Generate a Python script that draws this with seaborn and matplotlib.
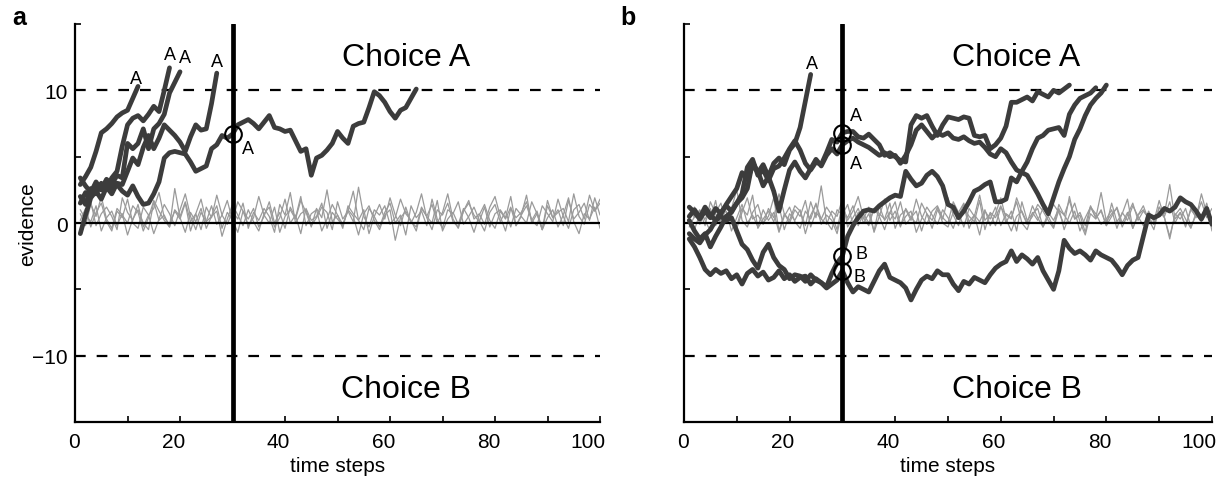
import numpy as np
import pandas as pd
import matplotlib
matplotlib.use("Agg")
import matplotlib.pyplot as plt
import matplotlib.transforms as mtrans
from matplotlib.ticker import MultipleLocator
import seaborn as sns

sns.set_style("ticks")
plt.rcParams["font.family"] = ["Liberation Sans", "DejaVu Sans"]
plt.rcParams["lines.scale_dashes"] = False
for key in ["text.color", "axes.labelcolor", "xtick.color", "ytick.color", "axes.edgecolor"]:
    plt.rcParams[key] = "black"

# ---- data: panel a, decision traces (t = 1, 2, ...) ----
a_tr1 = [2.9, 3.5, 4.2, 5.4, 6.8, 7.1, 7.5, 8.0, 8.3, 8.5, 9.4, 10.3]
a_tr2 = [2.0, 1.4, 2.6, 2.2, 3.0, 2.6, 3.4, 3.9, 5.8, 7.4, 7.9, 8.1, 7.7, 8.2, 8.8, 8.4, 10.0, 11.7]
a_tr3 = [3.4, 2.8, 2.3, 3.1, 2.5, 3.3, 2.9, 3.6, 3.4, 6.0, 5.6, 6.0, 7.1, 5.6, 7.1, 7.5, 8.2, 9.8,
         10.6, 11.4]
a_tr4 = [-0.8, 0.6, 1.9, 2.4, 1.8, 2.7, 2.2, 3.0, 2.9, 3.9, 4.9, 4.4, 5.7, 6.6, 5.6, 6.4, 7.4, 7.0,
         6.6, 6.1, 5.4, 6.5, 7.4, 7.0, 7.1, 9.0, 11.3]
a_tr5 = [1.5, 2.3, 2.0, 2.8, 2.5, 3.2, 2.6, 2.9, 2.4, 2.1, 2.8, 2.0, 1.4, 1.5, 2.2, 3.1, 4.9, 5.3,
         5.4, 5.3, 5.2, 4.6, 3.9, 4.1, 4.3, 5.6, 5.9, 6.6, 6.4, 6.7, 7.4, 7.6, 7.8, 7.5, 7.1, 7.6,
         8.1, 7.2, 7.1, 6.9, 7.0, 6.2, 5.4, 5.6, 3.6, 4.9, 5.1, 5.5, 6.0, 6.9, 6.4, 6.0, 7.3, 7.5,
         7.6, 8.7, 9.9, 9.6, 9.1, 8.4, 7.9, 8.5, 8.7, 9.4, 10.1]

# ---- panel a, noise traces (t = 1..100) ----
a_noise1 = [0.2, 1.1, -0.3, 0.8, 1.5, 0.1, -0.6, 0.9, 0.4, 1.8, 0.0, -0.4, 1.2, 0.6, -0.8, 0.3, 1.4,
            0.7, -0.2, 1.0, 2.2, 0.5, -0.5, 0.8, 0.1, 1.3, -0.1, 0.6, 1.7, 0.2, -0.7, 0.9, 0.3, 1.1,
            -0.3, 0.5, 1.6, 0.0, 0.8, -0.4, 1.2, 0.4, 2.0, -0.2, 0.7, 1.0, -0.6, 0.3, 1.4, 0.6, -0.1,
            0.9, 2.4, 0.2, -0.5, 1.1, 0.5, -0.3, 0.8, 1.5, 0.0, 0.6, -0.9, 1.3, 0.4, 0.9, -0.2, 1.8,
            0.3, -0.4, 1.0, 0.7, 1.6, -0.1, 0.5, 1.2, 0.2, -0.6, 0.8, 1.4, 0.1, 0.9, -0.3, 1.1, 0.6,
            2.1, 0.0, 0.7, -0.5, 1.3, 0.4, 1.0, -0.2, 1.7, 0.3, 0.8, 1.5, 0.2, 1.9, 0.6]
a_noise2 = [1.0, 0.3, 1.6, -0.2, 0.7, 1.2, 0.5, -0.5, 1.9, 0.8, 0.2, 1.4, -0.3, 0.6, 1.1, 2.3, 0.4,
            -0.1, 0.9, 0.3, 1.5, -0.6, 0.7, 1.8, 0.1, 0.5, 1.3, -0.4, 0.8, 0.2, 1.6, 0.9, -0.2, 0.4,
            2.0, 0.6, 0.0, 1.2, -0.7, 0.5, 1.0, 0.3, 1.7, 0.8, -0.3, 1.1, 0.4, 2.5, 0.1, 0.6, -0.4,
            1.3, 0.7, 0.2, 1.0, -0.8, 0.5, 1.4, 0.3, 1.9, 0.6, -0.2, 1.2, 0.0, 0.8, 2.2, 0.4, -0.5,
            1.0, 0.6, 1.5, 0.1, -0.3, 0.9, 1.7, 0.3, 0.7, -0.1, 1.2, 2.0, 0.5, -0.6, 1.1, 0.4, 0.8,
            1.6, 0.2, -0.2, 1.3, 0.7, 0.1, 1.8, 0.5, -0.4, 1.0, 1.4, 0.3, 2.1, 0.9, 1.5]
a_noise3 = [-0.4, 0.6, 0.1, 1.3, -0.6, 0.4, 0.9, -0.2, 0.7, -0.9, 0.3, 1.0, 0.0, -0.5, 1.6, 0.2, 0.6,
            -0.3, 2.6, 0.4, -0.7, 0.8, 0.1, 1.1, -0.4, 0.5, 0.9, -1.0, 0.3, 1.4, 0.6, -0.2, 1.0, 0.1,
            -0.6, 0.7, 1.2, -0.3, 0.4, 1.8, 0.0, 0.6, -0.8, 1.1, 0.2, 0.5, 1.5, -0.4, 0.8, 0.3, -0.2,
            1.0, 0.5, -0.9, 0.7, 1.3, 0.2, -0.5, 0.6, 1.0, -1.3, 0.4, 0.9, 0.1, -0.3, 1.2, 0.5, 0.0,
            1.7, -0.6, 0.3, 0.8, -0.1, 1.1, 0.4, -0.7, 0.6, 1.4, 0.2, -0.4, 0.9, 0.3, 1.2, -0.2, 0.5,
            0.0, 1.6, 0.7, -0.5, 0.4, 1.0, -0.3, 0.6, 1.9, 0.1, -0.8, 0.7, 0.3, 1.2, -0.4]
a_noise4 = [0.7, -0.2, 1.4, 0.5, 2.0, 0.3, -0.4, 1.1, 0.6, 0.0, 1.3, 0.8, -0.6, 0.4, 1.7, 0.9, 0.2,
            -0.3, 1.0, 0.5, 1.6, 0.1, 0.7, -0.5, 1.2, 0.4, 2.1, 0.6, -0.1, 0.9, 0.3, 1.5, -0.4, 0.8,
            0.2, 1.1, 0.5, -0.7, 1.4, 0.6, 2.3, 0.0, 0.7, 1.0, -0.2, 0.4, 1.2, 0.8, -0.5, 1.6, 0.3,
            0.9, 0.1, 2.7, 0.5, -0.3, 1.0, 0.6, 1.3, -0.1, 0.4, 1.8, 0.7, 0.2, -0.6, 1.1, 0.5, 1.4,
            0.0, 0.8, 2.2, 0.3, -0.4, 0.9, 1.5, 0.6, 0.1, 1.2, -0.3, 0.7, 1.0, 0.4, 2.0, -0.2, 0.6,
            1.3, 0.2, 0.9, -0.5, 1.7, 0.4, 0.8, 1.1, 0.1, 2.2, 0.5, -0.1, 1.4, 0.9, 1.8]

# ---- panel b, decision traces (t = 1, 2, ...) ----
b_tr0 = [0.5, 1.0, 0.4, 1.2, 0.6, 0.2, 0.8, 1.3, 0.9, 1.5, 1.9, 2.6, 4.6, 3.8, 4.4, 3.5, 4.5, 4.9,
         4.4, 5.5, 6.0, 7.2, 9.2, 11.2]
b_trA1 = [0.2, -0.6, -1.2, -0.8, -1.8, -1.0, -0.3, 0.5, 0.8, 1.5, 2.2, 4.2, 4.8, 3.6, 4.0, 3.2, 4.1,
          4.3, 4.9, 5.6, 6.2, 5.5, 4.5, 4.0, 4.6, 4.4, 5.3, 6.3, 6.1, 6.8, 6.9, 6.9, 6.5, 6.4, 6.7,
          6.3, 5.9, 5.1, 5.3, 5.0, 4.7, 4.6, 7.4, 8.1, 7.9, 8.1, 7.3, 6.6, 7.4, 8.0, 7.9, 7.8, 8.0,
          7.9, 6.6, 6.5, 6.6, 5.6, 5.9, 6.4, 7.3, 9.1, 9.1, 9.3, 9.5, 9.2, 9.9, 9.7, 9.5, 10.0, 9.8,
          10.1, 10.4]
b_trA2 = [1.2, 0.8, 0.3, 0.9, 0.4, 1.1, 0.7, 1.4, 2.0, 2.6, 3.8, 3.3, 4.3, 3.9, 2.8, 3.5, 2.4, 0.9,
          2.5, 4.0, 4.6, 3.9, 3.4, 4.1, 4.8, 4.3, 5.1, 5.6, 5.2, 5.9, 6.2, 6.4, 6.1, 5.9, 5.7, 5.4,
          5.1, 5.3, 5.0, 5.1, 4.5, 5.1, 5.9, 7.0, 7.4, 6.9, 6.4, 6.8, 6.6, 6.8, 6.4, 6.3, 6.5, 6.2,
          6.0, 6.1, 5.7, 5.2, 5.0, 5.6, 5.3, 4.6, 4.0, 3.8, 3.6, 2.9, 2.2, 1.4, 0.7, 1.9, 3.1, 4.1,
          5.0, 6.3, 7.1, 8.1, 8.9, 9.4, 9.8, 10.4]
b_trB1 = [-0.8, -1.2, -1.5, -0.9, -0.5, 0.2, 0.5, 0.2, 0.4, -0.6, -1.6, -2.0, -2.8, -3.4, -2.2,
          -1.6, -2.6, -3.2, -3.5, -4.2, -3.9, -4.0, -4.4, -3.9, -4.3, -4.5, -4.8, -3.8, -3.0, -2.5,
          -1.0, -0.2, 0.4, 0.9, 1.0, 0.9, 1.3, 1.6, 1.9, 2.1, 2.0, 3.9, 3.3, 2.8, 3.0, 3.6, 3.9, 3.5,
          2.8, 1.4, 1.2, 0.4, 0.9, 1.6, 2.4, 2.6, 2.9, 3.1, 1.6, 1.6, 1.8, 3.4, 3.1, 3.9, 4.6, 5.6,
          6.4, 6.6, 7.0, 7.1, 7.2, 6.6, 8.2, 8.9, 9.4, 9.6, 9.8, 10.2]
b_trB2 = [-1.2, -1.8, -2.6, -3.5, -3.9, -3.5, -3.8, -3.6, -4.2, -3.9, -4.6, -3.8, -3.5, -4.0, -3.7,
          -4.3, -4.1, -3.6, -4.2, -3.9, -4.4, -4.1, -4.0, -4.6, -4.2, -4.5, -4.9, -4.6, -4.3, -3.6,
          -4.5, -5.2, -4.8, -5.0, -5.2, -4.4, -3.6, -3.1, -4.1, -4.3, -4.5, -4.9, -5.8, -5.0, -4.3,
          -4.0, -4.2, -3.6, -3.9, -3.9, -4.6, -5.1, -4.4, -4.6, -4.1, -4.3, -4.5, -3.9, -3.4, -3.1,
          -2.9, -2.1, -2.9, -2.4, -2.7, -3.1, -2.6, -3.6, -4.3, -5.0, -3.6, -1.3, -1.9, -2.3, -2.1,
          -2.4, -2.8, -2.1, -2.4, -2.6, -2.8, -3.3, -3.9, -3.2, -2.8, -2.6, -1.0, 0.6, 0.4, 0.6, 1.1,
          0.9, 1.2, 1.9, 1.6, 1.4, 0.9, 0.3, 1.1, -0.1]

# ---- panel b, noise traces (t = 1..100) ----
b_noise1 = [0.4, 1.2, -0.1, 0.9, 0.3, 1.7, -0.4, 0.6, 1.1, 2.5, 0.2, -0.3, 0.8, 1.4, 0.0, 0.5, 1.9,
            -0.6, 0.7, 0.2, 1.3, 0.9, -0.2, 1.6, 0.4, 2.8, 0.1, -0.5, 1.0, 0.6, 1.4, -0.1, 0.8, 0.3,
            1.2, -0.7, 0.5, 1.8, 0.2, 0.9, -0.3, 1.1, 0.4, 0.0, 1.5, 0.7, -0.4, 1.0, 0.3, 1.9, 0.6,
            -0.2, 1.2, 0.5, 0.1, 1.7, -0.5, 0.8, 0.4, 1.3, 0.0, 0.9, -0.6, 1.6, 0.2, 0.7, 1.1, -0.3,
            0.5, 1.4, 0.8, -0.1, 2.0, 0.3, 0.6, -0.7, 1.2, 0.4, 0.9, -0.2, 1.5, 0.1, 0.7, 1.8, -0.4,
            0.6, 1.0, 0.3, -0.5, 1.2, 0.5, 1.6, 0.0, 0.8, -0.3, 1.1, 0.4, 2.2, 0.7, 0.2]
b_noise2 = [-0.3, 0.5, 1.0, 0.2, -0.6, 0.8, 1.5, 0.0, 0.4, -0.2, 1.1, 0.6, 2.1, -0.4, 0.3, 0.9, 0.1,
            1.3, -0.5, 0.7, 0.2, 1.0, -0.8, 0.6, 1.4, 0.3, -0.1, 0.9, 0.5, 1.8, -0.3, 0.4, 1.1, 0.0,
            0.7, -0.6, 1.3, 0.2, 0.8, 1.6, -0.2, 0.5, 0.9, -0.7, 0.3, 1.2, 0.6, -0.1, 1.0, 0.4, -0.4,
            0.8, 1.5, 0.1, 0.6, -0.9, 0.9, 0.3, 1.2, -0.2, 0.7, 0.4, 1.6, 0.0, -0.5, 0.8, 0.2, 1.1,
            0.5, -0.3, 1.4, 0.6, 0.0, 0.9, -0.6, 0.4, 1.2, 0.7, -0.1, 0.3, 1.0, -0.4, 0.8, 0.2, 1.3,
            0.5, -0.2, 0.9, 0.1, 1.7, 0.4, -1.0, 0.6, 1.1, 0.3, -0.4, 0.8, 0.2, 1.5, -0.6]
b_noise3 = [1.2, 0.4, 0.9, -0.2, 1.6, 0.7, 0.1, 1.3, 0.5, -0.4, 0.8, 1.9, 0.3, 0.6, -0.1, 1.1, 0.4,
            2.2, 0.7, 0.0, 1.0, 0.5, 1.7, -0.3, 0.8, 0.3, 1.2, 0.6, -0.5, 1.4, 0.2, 0.9, 2.0, 0.4,
            -0.2, 1.1, 0.7, 0.3, 1.5, -0.4, 0.6, 1.0, 0.2, 1.8, 0.5, -0.1, 0.9, 1.3, 0.4, 0.0, 1.6,
            0.8, -0.3, 1.1, 0.5, 2.1, 0.2, 0.7, -0.2, 1.2, 0.6, 0.3, 1.9, 0.8, -0.1, 0.5, 1.4, 0.9,
            0.2, -0.4, 1.0, 0.6, 1.7, 0.3, 0.8, -0.2, 1.3, 0.4, 2.3, 0.1, 0.7, 1.1, -0.3, 0.6, 1.5,
            0.2, 0.9, 0.4, -0.1, 1.2, 0.7, 2.9, 0.3, 0.8, -0.2, 1.0, 0.5, 1.6, 0.4, 1.1]
b_noise4 = [0.1, -0.5, 0.7, 0.3, 1.1, -0.2, 0.5, 0.9, -0.6, 0.4, 1.4, 0.0, 0.6, -0.3, 1.0, 0.2, 0.8,
            -0.7, 0.5, 1.2, 0.1, -0.4, 0.9, 0.3, 1.5, -0.1, 0.6, 0.2, -0.8, 1.0, 0.4, 1.3, -0.2, 0.7,
            0.0, 1.1, 0.5, -0.5, 0.8, 0.3, 1.6, -0.1, 0.4, 0.9, -0.6, 0.7, 0.2, 1.2, 0.0, -0.3, 0.8,
            0.5, 1.4, -0.4, 0.6, 0.1, 1.0, -0.2, 0.7, 1.9, 0.3, -0.6, 0.5, 0.9, 0.0, 1.3, 0.4, -0.3,
            0.8, 0.2, 1.1, -0.5, 0.6, 1.5, 0.1, -0.9, 0.7, 0.3, 1.0, -0.2, 0.5, 1.2, 0.0, 0.8, -0.4,
            0.6, 1.3, 0.2, -0.1, 0.9, 0.4, -1.2, 0.7, 0.3, 1.1, -0.3, 0.6, 0.1, 1.4, -0.2]

threshold = 10
probe_t = 30


def long_df(traces):
    rows = []
    for k, vals in enumerate(traces):
        for i, v in enumerate(vals):
            rows.append((k, i + 1, v))
    return pd.DataFrame(rows, columns=["trace", "t", "v"])


dark = "#3c3c3c"
grey = "#9a9a9a"

fig = plt.figure(figsize=(12.22, 4.85), dpi=100)
ax_a = fig.add_axes([0.0614, 0.1278, 0.4296, 0.8206])
ax_b = fig.add_axes([0.5597, 0.1278, 0.4321, 0.8206])

panels = [
    (ax_a, [a_noise1, a_noise2, a_noise3, a_noise4], [a_tr1, a_tr2, a_tr3, a_tr4, a_tr5], [a_tr5]),
    (ax_b, [b_noise1, b_noise2, b_noise3, b_noise4], [b_tr0, b_trA1, b_trA2, b_trB1, b_trB2],
     [b_trA1, b_trA2, b_trB1, b_trB2]),
]

# x tick labels sit right-aligned, a few pixels right of the tick
shift = mtrans.ScaledTranslation(5 / 100, 0, fig.dpi_scale_trans)

for ax, noise, traces, probed in panels:
    sns.lineplot(data=long_df(noise), x="t", y="v", units="trace", estimator=None,
                 color=grey, linewidth=0.9, ax=ax, zorder=2)
    ax.axhline(0, color="black", lw=1.6, zorder=3)
    ax.axhline(threshold, color="black", lw=1.6, dashes=(7.7, 7.9), zorder=3)
    ax.axhline(-threshold, color="black", lw=1.6, dashes=(7.7, 7.9), zorder=3)
    sns.lineplot(data=long_df(traces), x="t", y="v", units="trace", estimator=None,
                 color=dark, linewidth=3.4, ax=ax, zorder=4)
    ax.axvline(probe_t, color="black", lw=3.4, zorder=5)
    ys = [tr[probe_t - 1] for tr in probed]
    ax.plot([probe_t] * len(ys), ys, "o", ms=12, mfc="none", mec="black", mew=1.5, zorder=6)

    ax.text(63, 12.5, "Choice A", fontsize=23, ha="center", va="center")
    ax.text(63, -12.5, "Choice B", fontsize=23, ha="center", va="center")

    ax.set_xlim(0, 100)
    ax.set_ylim(-15, 15)
    ax.xaxis.set_major_locator(MultipleLocator(20))
    ax.xaxis.set_minor_locator(MultipleLocator(10))
    ax.yaxis.set_major_locator(MultipleLocator(10))
    ax.yaxis.set_minor_locator(MultipleLocator(5))
    ax.tick_params(which="both", direction="in", length=4, width=1.2, labelsize=15)
    ax.tick_params(axis="x", pad=7)
    ax.tick_params(axis="y", pad=5)
    for s in ["top", "right"]:
        ax.spines[s].set_visible(False)
    for s in ["left", "bottom"]:
        ax.spines[s].set_linewidth(1.6)
    ax.set_xlabel("time steps", fontsize=15)
    ax.xaxis.set_label_coords(0.5, -0.085)
    ax.set_ylabel("")
    for lbl in ax.get_xticklabels():
        lbl.set_horizontalalignment("right")
        lbl.set_transform(lbl.get_transform() + shift)

ax_a.set_ylabel("evidence", fontsize=15)
ax_a.yaxis.set_label_coords(-0.072, 0.5)
ax_b.tick_params(axis="y", labelleft=False)

# choice labels at the end points / probe points
lab = dict(fontsize=13, ha="center", va="center")
ax_a.text(11.7, 10.9, "A", **lab)
ax_a.text(18.1, 12.7, "A", **lab)
ax_a.text(21.0, 12.5, "A", **lab)
ax_a.text(27.0, 12.2, "A", **lab)
ax_a.text(33.0, 5.6, "A", **lab)
ax_b.text(24.2, 12.0, "A", **lab)
ax_b.text(32.5, 8.1, "A", **lab)
ax_b.text(32.5, 4.5, "A", **lab)
ax_b.text(33.6, -2.3, "B", **lab)
ax_b.text(33.3, -4.0, "B", **lab)

fig.text(0.0098, 0.963, "a", fontsize=18, fontweight="bold", ha="left", va="center")
fig.text(0.5075, 0.963, "b", fontsize=18, fontweight="bold", ha="left", va="center")

fig.savefig("out.png", dpi=100)
